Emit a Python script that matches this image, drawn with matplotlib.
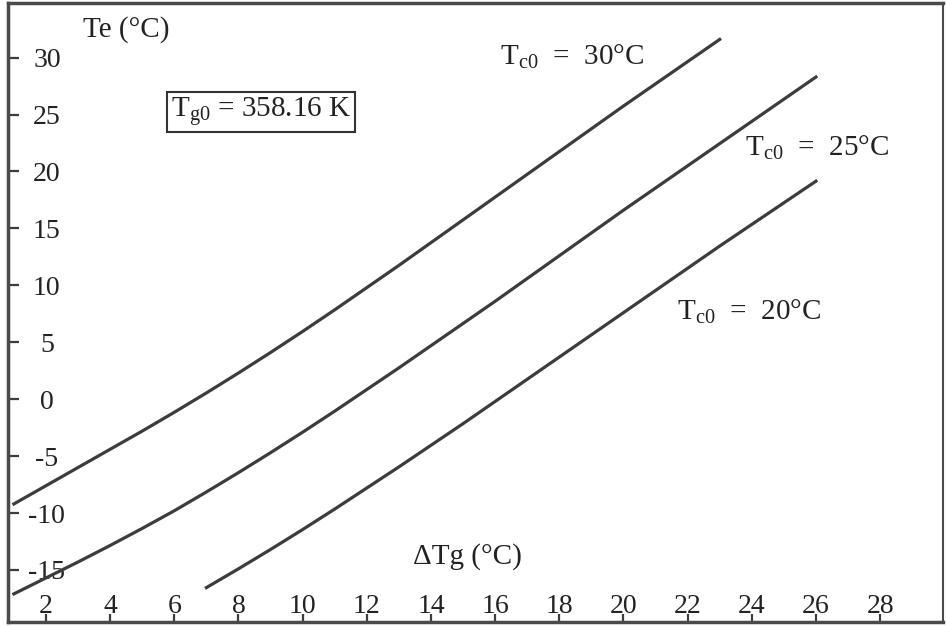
import numpy as np
import matplotlib
matplotlib.use("Agg")
import matplotlib.pyplot as plt

plt.rcParams['font.family'] = ['Liberation Serif', 'DejaVu Serif']
plt.rcParams['mathtext.fontset'] = 'custom'
plt.rcParams['mathtext.rm'] = 'Liberation Serif'
plt.rcParams['mathtext.it'] = 'Liberation Serif'

# values (Delta Tg in degC, Te in degC)
dtg_30 = [1, 2, 3, 4, 5, 6, 7, 8, 9, 10, 11, 12, 13, 14, 15, 16, 17, 18, 19, 20, 21, 22, 23]
te_30 = [-9.2, -7.6, -6.0, -4.4, -2.8, -1.15, 0.55, 2.3, 4.1, 5.95, 7.85, 9.8, 11.75,
         13.75, 15.75, 17.75, 19.75, 21.75, 23.75, 25.75, 27.7, 29.65, 31.6]

dtg_25 = [1, 2, 3, 4, 5, 6, 7, 8, 9, 10, 11, 12, 13, 14, 15, 16, 17, 18, 19, 20, 21, 22, 23, 24, 25, 26]
te_25 = [-17.1, -15.7, -14.3, -12.85, -11.35, -9.8, -8.15, -6.45, -4.7, -2.9, -1.05, 0.85,
         2.75, 4.7, 6.65, 8.6, 10.6, 12.6, 14.6, 16.6, 18.55, 20.5, 22.45, 24.4, 26.35, 28.3]

dtg_20 = [7, 8, 9, 10, 11, 12, 13, 14, 15, 16, 17, 18, 19, 20, 21, 22, 23, 24, 25, 26]
te_20 = [-16.55, -14.9, -13.2, -11.45, -9.65, -7.8, -5.95, -4.05, -2.15, -0.2, 1.75, 3.7,
         5.65, 7.6, 9.55, 11.5, 13.45, 15.35, 17.25, 19.15]

xticks = [2, 4, 6, 8, 10, 12, 14, 16, 18, 20, 22, 24, 26, 28]
yticks = [-15, -10, -5, 0, 5, 10, 15, 20, 25, 30]
ylabels = ['-15', '-10', '-5', '0', '5', '10', '15', '20', '25', '30']

curve_labels = [r'$\mathrm{T_{c0}}$  =  30°C', r'$\mathrm{T_{c0}}$  =  25°C', r'$\mathrm{T_{c0}}$  =  20°C']

ink = '#3c3c3c'

fig = plt.figure(figsize=(9.46, 6.26), dpi=100)
ax = fig.add_axes([8 / 946, 4 / 626, 935 / 946, 619 / 626])

ax.plot(dtg_30, te_30, color=ink, lw=2.3)
ax.plot(dtg_25, te_25, color=ink, lw=2.3)
ax.plot(dtg_20, te_20, color=ink, lw=2.3)

ax.set_xlim(0.817, 29.96)
ax.set_ylim(-19.57, 34.8)

ax.set_xticks(xticks)
ax.set_yticks(yticks)
ax.set_yticklabels(ylabels)

ax.tick_params(axis='y', direction='in', length=8, width=1.6, color=ink,
               pad=-28, labelsize=20, labelcolor='#222222')
ax.tick_params(axis='x', direction='in', length=6, width=1.6, color=ink,
               pad=-2, labelsize=20, labelcolor='#222222')
plt.setp(ax.get_yticklabels(), ha='center')
plt.setp(ax.get_xticklabels(), va='bottom')

for side, w in [('left', 2.5), ('top', 2.5), ('bottom', 2.5), ('right', 1.5)]:
    ax.spines[side].set_linewidth(w)
    ax.spines[side].set_color('#4a4a4a')

ax.text((83 - 8) / 935, 1 - (30 - 3) / 619, 'Te (°C)', transform=ax.transAxes,
        fontsize=21, color='#222222', ha='left', va='center')
ax.text((413 - 8) / 935, 1 - (557 - 3) / 619, 'ΔTg (°C)', transform=ax.transAxes,
        fontsize=21, color='#222222', ha='left', va='center')

ax.text((261 - 8) / 935, 1 - (112 - 3) / 619, r'$\mathrm{T_{g0}}$ = 358.16 K',
        transform=ax.transAxes, fontsize=21, color='#222222', ha='center', va='center',
        bbox=dict(boxstyle='square,pad=0.12', fc='white', ec='#333333', lw=1.5))

label_pos = [(500, 57), (745, 148), (677, 312)]
for (px, py), lab in zip(label_pos, curve_labels):
    ax.text((px - 8) / 935, 1 - (py - 3) / 619, lab, transform=ax.transAxes,
            fontsize=21, color='#222222', ha='left', va='center')

fig.savefig('out.png', dpi=100, facecolor='white')
